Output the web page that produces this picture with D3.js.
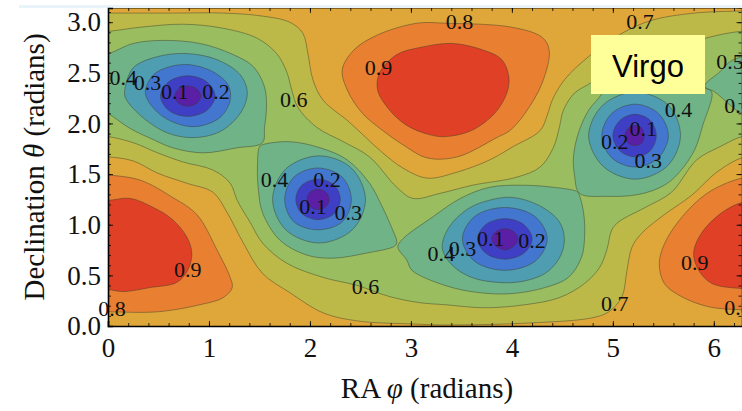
<!DOCTYPE html>
<html>
<head>
<meta charset="utf-8">
<script src="https://cdn.jsdelivr.net/npm/d3@7"></script>
<style>
  html, body { margin: 0; padding: 0; background: #fff; overflow: hidden; }
  svg { display: block; }
</style>
</head>
<body>
<div id="chart"></div>
<script>
// Contour outlines, all in [RA, declination] radians.
// Name says the level the outline bounds.
var high08Left = [[-.1,1.49],[0,1.49],[.32,1.44],[.64,1.27],[.88,1.10],[1.08,.75],[1.21,.48],[1.23,.38],[1.14,.28],[.91,.21],[.49,.14],[0,.14],[-.1,.14]];
var high09Left = [[-.1,1.24],[0,1.24],[.22,1.26],[.45,1.17],[.64,1.05],[.78,.88],[.83,.72],[.79,.55],[.68,.43],[.42,.38],[.15,.34],[0,.36],[-.1,.36]];
var high08Right = [[6.28,1.46],[5.98,1.34],[5.75,1.15],[5.53,.85],[5.46,.62],[5.51,.42],[5.68,.29],[5.95,.19],[6.28,.16],[6.4,.16],[6.4,1.46]];
var high09Right = [[6.28,1.22],[6.08,1.12],[5.88,.92],[5.80,.72],[5.85,.55],[5.98,.42],[6.28,.37],[6.4,.37],[6.4,1.22]];
var high08Mid = [[2.32,2.53],[2.43,2.72],[2.66,2.87],[3.06,2.99],[3.34,2.99],[4.0,2.95],[4.30,2.85],[4.37,2.72],[4.30,2.40],[4.13,2.10],[3.98,1.93],[3.85,1.86],[3.46,1.67],[3.16,1.66],[2.92,1.79],[2.72,1.93],[2.52,2.10],[2.37,2.33]];
var high09Mid = [[2.67,2.33],[2.69,2.50],[2.86,2.68],[3.09,2.75],[3.41,2.79],[3.73,2.72],[3.90,2.63],[3.97,2.46],[3.95,2.30],[3.83,2.10],[3.60,1.93],[3.34,1.87],[3.18,1.89],[2.96,1.98],[2.79,2.13]];

var low07 = [[-.1,3.09],[0,3.09],[.64,3.09],[1.14,3.09],[1.53,3.06],[1.80,3.0],[1.93,2.89],[1.98,2.69],[2.03,2.43],[2.13,2.23],[2.37,2.03],[2.48,1.93],[2.72,1.71],[2.92,1.56],[3.16,1.46],[3.46,1.52],[3.78,1.64],[4.01,1.77],[4.28,1.93],[4.35,2.08],[4.40,2.23],[4.52,2.43],[4.76,2.66],[5.09,2.89],[5.39,3.02],[5.81,3.09],[6.28,3.11],[6.4,3.11],[6.4,1.66],[6.28,1.66],[6.03,1.52],[5.78,1.29],[5.51,1.10],[5.29,.92],[5.19,.78],[5.14,.55],[5.09,.29],[4.96,.14],[4.79,.08],[4.18,.03],[3.34,.01],[3.02,.02],[2.47,.05],[2.13,.13],[1.80,.33],[1.53,.52],[1.34,.82],[1.18,1.12],[1.04,1.32],[.78,1.41],[.49,1.51],[.25,1.63],[0,1.67],[-.1,1.67]];
var low06 = [[-.1,2.91],[0,2.91],[.32,2.95],[.74,2.98],[1.14,2.94],[1.48,2.84],[1.67,2.69],[1.77,2.51],[1.82,2.33],[1.88,2.16],[2.07,1.96],[2.33,1.82],[2.59,1.67],[2.86,1.37],[3.02,1.26],[3.29,1.31],[3.61,1.39],[4.05,1.47],[4.28,1.57],[4.41,1.76],[4.47,1.96],[4.51,2.13],[4.62,2.30],[4.78,2.40],[4.87,2.48],[5.27,2.65],[5.66,2.77],[5.91,2.84],[6.13,2.89],[6.28,2.91],[6.4,2.91],[6.4,1.87],[6.28,1.87],[6.06,1.77],[5.83,1.64],[5.58,1.32],[5.32,1.17],[5.06,1.03],[4.99,.95],[4.94,.75],[4.87,.58],[4.72,.42],[4.47,.28],[4.13,.21],[3.73,.18],[3.34,.21],[3.09,.23],[2.79,.29],[2.47,.40],[2.13,.48],[1.77,.62],[1.53,.82],[1.41,1.02],[1.28,1.24],[1.21,1.41],[1.04,1.54],[.74,1.62],[.49,1.71],[.25,1.81],[0,1.87],[-.1,1.87]];

var low05Left = [[-.1,2.69],[0,2.69],[.25,2.79],[.54,2.82],[.91,2.79],[1.24,2.68],[1.44,2.56],[1.55,2.36],[1.57,2.16],[1.55,1.96],[1.53,1.81],[1.28,1.76],[.94,1.71],[.64,1.76],[.45,1.84],[.22,1.95],[0,2.10],[-.1,2.15]];
var low05Second = [[1.53,1.79],[1.80,1.82],[2.10,1.76],[2.37,1.64],[2.59,1.41],[2.71,1.19],[2.81,.97],[2.86,.83],[2.84,.79],[2.56,.72],[2.23,.67],[1.97,.70],[1.70,.85],[1.53,1.12],[1.49,1.34],[1.48,1.57],[1.50,1.77]];
var low05Third = [[2.92,.86],[3.22,1.08],[3.49,1.26],[3.78,1.37],[4.11,1.39],[4.41,1.37],[4.64,1.33],[4.66,1.31],[4.71,1.12],[4.72,.88],[4.69,.68],[4.56,.48],[4.33,.38],[4.0,.32],[3.67,.33],[3.34,.40],[3.01,.55],[2.96,.65],[2.87,.78]];
var low05Virgo = [[4.67,1.31],[4.94,1.28],[5.26,1.30],[5.51,1.39],[5.66,1.52],[5.81,1.74],[5.89,1.98],[5.98,2.31],[5.91,2.35],[5.65,2.46],[5.32,2.53],[5.06,2.50],[4.86,2.25],[4.76,2.13],[4.66,1.91],[4.61,1.67],[4.62,1.49]];
var low05Right = [[5.91,2.37],[6.06,2.51],[6.16,2.61],[6.28,2.66],[6.4,2.69],[6.4,2.1],[6.28,2.10],[6.01,2.31]];

var low04First = [[.17,2.35],[.25,2.55],[.49,2.66],[.78,2.69],[1.08,2.63],[1.31,2.48],[1.38,2.30],[1.31,2.10],[1.11,1.92],[.84,1.86],[.58,1.91],[.32,2.08],[.17,2.26]];
var low03First = [[.37,2.30],[.45,2.48],[.61,2.56],[.81,2.58],[1.04,2.51],[1.19,2.38],[1.21,2.23],[1.11,2.06],[.88,1.97],[.68,2.00],[.49,2.11]];
var low02First = [[.52,2.27],[.60,2.41],[.79,2.47],[.98,2.41],[1.06,2.27],[.98,2.13],[.79,2.07],[.60,2.13]];
var low01First = [[.66,2.27],[.70,2.34],[.79,2.37],[.88,2.34],[.92,2.27],[.88,2.20],[.79,2.17],[.70,2.20]];

var low04Second = [[1.63,1.25],[1.76,1.55],[2.09,1.68],[2.41,1.56],[2.55,1.25],[2.42,.95],[2.09,.82],[1.76,.95]];
var low03Second = [[1.75,1.25],[1.84,1.47],[2.08,1.56],[2.32,1.47],[2.41,1.25],[2.32,1.03],[2.08,.95],[1.84,1.03]];
var low02Second = [[1.86,1.25],[1.92,1.39],[2.08,1.45],[2.24,1.39],[2.30,1.25],[2.24,1.11],[2.08,1.05],[1.92,1.11]];
var low01Second = [[1.97,1.25],[2.0,1.32],[2.08,1.35],[2.16,1.32],[2.19,1.25],[2.16,1.18],[2.08,1.15],[2.0,1.18]];

var low04Third = [[3.31,.77],[3.38,.98],[3.57,1.16],[3.77,1.24],[4.0,1.27],[4.27,1.19],[4.47,1.03],[4.52,.85],[4.47,.67],[4.33,.52],[4.10,.44],[3.87,.43],[3.60,.48],[3.41,.60]];
var low03Third = [[3.51,.86],[3.63,1.08],[3.93,1.17],[4.23,1.08],[4.35,.86],[4.23,.64],[3.93,.55],[3.63,.64]];
var low02Third = [[3.66,.86],[3.74,1.0],[3.93,1.06],[4.12,1.0],[4.20,.86],[4.12,.72],[3.93,.66],[3.74,.72]];
var low01Third = [[3.80,.86],[3.84,.93],[3.93,.96],[4.02,.93],[4.06,.86],[4.02,.79],[3.93,.75],[3.84,.79]];

var low04Virgo = [[4.76,1.88],[4.90,2.18],[5.22,2.31],[5.55,2.18],[5.67,1.88],[5.54,1.58],[5.22,1.45],[4.90,1.58]];
var low03Virgo = [[4.89,1.88],[4.99,2.10],[5.22,2.19],[5.45,2.10],[5.55,1.88],[5.45,1.66],[5.22,1.57],[4.99,1.66]];
var low02Virgo = [[5.0,1.88],[5.07,2.03],[5.22,2.09],[5.37,2.03],[5.43,1.88],[5.37,1.73],[5.22,1.67],[5.07,1.73]];
var low01Virgo = [[5.12,1.88],[5.15,1.95],[5.22,1.98],[5.29,1.95],[5.31,1.88],[5.29,1.81],[5.22,1.78],[5.15,1.81]];

// Contour labels: text, RA, declination
var contourLabels = [
  ["0.8",3.48,3.01],["0.7",5.27,3.01],["0.4",.15,2.45],["0.3",.39,2.40],["0.1",.66,2.32],["0.2",1.07,2.32],
  ["0.6",1.84,2.24],["0.9",2.68,2.55],["0.5",6.16,2.61],["0.6",6.24,2.18],["0.4",5.65,2.14],["0.1",5.30,1.95],
  ["0.2",5.02,1.82],["0.3",5.35,1.63],["0.4",1.65,1.45],["0.2",2.17,1.45],["0.1",2.03,1.18],["0.3",2.38,1.12],
  ["0.9",.79,.56],["0.8",.04,.17],["0.6",2.55,.39],["0.4",3.30,.72],["0.3",3.51,.77],["0.1",3.79,.86],
  ["0.2",4.20,.84],["0.7",5.02,.22],["0.9",5.81,.63],["0.8",6.24,.18]
];

var xMajor = [0,1,2,3,4,5,6];
var yMajor = [0,.5,1,1.5,2,2.5,3];

var colors = {
  band78: "#dfa739", band89: "#e87f31", band9: "#e04126", band67: "#bdb948", band56: "#99bd5f",
  band45: "#6fb387", band34: "#4f9db0", band23: "#4377cf", band12: "#3f3fc6", band01: "#5b1fa6"
};

// Painting order, outer bands first
var layers = [
  [high08Left, colors.band89], [high08Right, colors.band89], [high08Mid, colors.band89],
  [high09Left, colors.band9], [high09Right, colors.band9], [high09Mid, colors.band9],
  [low07, colors.band67], [low06, colors.band56],
  [low05Left, colors.band45], [low05Second, colors.band45], [low05Third, colors.band45], [low05Virgo, colors.band45], [low05Right, colors.band45],
  [low04First, colors.band34], [low04Second, colors.band34], [low04Third, colors.band34], [low04Virgo, colors.band34],
  [low03First, colors.band23], [low03Second, colors.band23], [low03Third, colors.band23], [low03Virgo, colors.band23],
  [low02First, colors.band12], [low02Second, colors.band12], [low02Third, colors.band12], [low02Virgo, colors.band12],
  [low01First, colors.band01], [low01Second, colors.band01], [low01Third, colors.band01], [low01Virgo, colors.band01]
];

var width = 742, height = 411;
var margin = {top: 8, left: 108, bottom: 85};

var svg = d3.select("#chart").append("svg")
    .attr("width", width)
    .attr("height", height);

// Pale strip above the plot in the source page
svg.append("rect").attr("x", 19).attr("y", 5).attr("width", width - 19).attr("height", 3).style("fill", "#e8f4fa");

var x = d3.scaleLinear().domain([0, 6.283]).range([margin.left, 742.4]);
var y = d3.scaleLinear().domain([0, 3.14]).range([326, margin.top]);

svg.append("clipPath").attr("id", "plot-clip")
    .append("rect")
    .attr("x", margin.left).attr("y", margin.top)
    .attr("width", width - margin.left).attr("height", 326 - margin.top);

var plot = svg.append("g").attr("clip-path", "url(#plot-clip)");

plot.append("rect")
    .attr("x", margin.left).attr("y", margin.top)
    .attr("width", width - margin.left).attr("height", 326 - margin.top)
    .style("fill", colors.band78);

var outline = d3.line()
    .x(function(d) { return x(d[0]); })
    .y(function(d) { return y(d[1]); })
    .curve(d3.curveCatmullRomClosed.alpha(0.5));

plot.selectAll("path.band")
    .data(layers)
    .enter()
    .append("path")
    .attr("class", "band")
    .attr("d", function(d) { return outline(d[0]); })
    .style("fill", function(d) { return d[1]; })
    .style("stroke", "#3a3a28")
    .style("stroke-opacity", 0.45)
    .style("stroke-width", 1);

// Ticks: majors carry labels, minors are plain, all four sides point inward
function minorTicks(step, max) {
  return d3.range(0, max, step);
}
function styleAxis(g, strong) {
  g.select(".domain").style("stroke", "#000").style("stroke-width", strong ? 1.6 : 0.6).style("stroke-opacity", strong ? 1 : 0.4);
  g.selectAll("line").style("stroke", "#000").style("stroke-width", 0.8);
  g.selectAll("text").style("font-family", "'Liberation Serif', serif").style("font-size", "27px").style("fill", "#111");
}

var xMinor = minorTicks(.2, 6.3), yMinor = minorTicks(.1, 3.14);

svg.append("g").attr("transform", "translate(0,326)")
    .call(d3.axisBottom(x).tickValues(xMinor).tickSize(-3).tickFormat(""))
    .call(styleAxis, false);
svg.append("g").attr("transform", "translate(0," + margin.top + ")")
    .call(d3.axisTop(x).tickValues(xMinor).tickSize(-3).tickFormat(""))
    .call(styleAxis, false);
svg.append("g").attr("transform", "translate(0," + margin.top + ")")
    .call(d3.axisTop(x).tickValues(xMajor).tickSize(-5).tickFormat(""))
    .call(styleAxis, false);
svg.append("g").attr("transform", "translate(" + margin.left + ",0)")
    .call(d3.axisLeft(y).tickValues(yMinor).tickSize(-3).tickFormat(""))
    .call(styleAxis, false);
svg.append("g").attr("transform", "translate(741.5,0)")
    .call(d3.axisRight(y).tickValues(yMinor).tickSize(-3).tickFormat(""))
    .call(styleAxis, false);
svg.append("g").attr("transform", "translate(741.5,0)")
    .call(d3.axisRight(y).tickValues(yMajor).tickSize(-5).tickFormat(""))
    .call(styleAxis, false);
svg.append("g").attr("transform", "translate(0,326)")
    .call(d3.axisBottom(x).tickValues(xMajor).tickSize(-5).tickPadding(12).tickFormat(d3.format("d")))
    .call(styleAxis, true);
svg.append("g").attr("transform", "translate(" + margin.left + ",0)")
    .call(d3.axisLeft(y).tickValues(yMajor).tickSize(-5).tickPadding(7).tickFormat(d3.format(".1f")))
    .call(styleAxis, true);

// Contour labels
svg.selectAll("text.level")
    .data(contourLabels)
    .enter()
    .append("text")
    .attr("class", "level")
    .attr("x", function(d) { return x(d[1]); })
    .attr("y", function(d) { return y(d[2]); })
    .attr("text-anchor", "middle")
    .attr("dominant-baseline", "central")
    .style("font-family", "'Liberation Serif', serif")
    .style("font-size", "22px")
    .style("fill", "#111")
    .text(function(d) { return d[0]; });

// Axis titles
var xTitle = svg.append("text")
    .attr("x", 427).attr("y", 398)
    .attr("text-anchor", "middle")
    .style("font-family", "'Liberation Serif', serif")
    .style("font-size", "29px")
    .style("fill", "#111");
xTitle.append("tspan").text("RA ");
xTitle.append("tspan").style("font-style", "italic").text("φ");
xTitle.append("tspan").text(" (radians)");

var yTitle = svg.append("text")
    .attr("transform", "translate(44,167) rotate(-90)")
    .attr("text-anchor", "middle")
    .style("font-family", "'Liberation Serif', serif")
    .style("font-size", "29px")
    .style("fill", "#111");
yTitle.append("tspan").text("Declination ");
yTitle.append("tspan").style("font-style", "italic").text("θ");
yTitle.append("tspan").text(" (radians)");

// Virgo callout
svg.append("rect")
    .attr("x", 591).attr("y", 35)
    .attr("width", 114).attr("height", 59)
    .style("fill", "#ffff99");
svg.append("text")
    .attr("x", 648).attr("y", 77)
    .attr("text-anchor", "middle")
    .style("font-family", "'Liberation Sans', sans-serif")
    .style("font-size", "31px")
    .style("fill", "#000")
    .text("Virgo");
</script>
</body>
</html>
